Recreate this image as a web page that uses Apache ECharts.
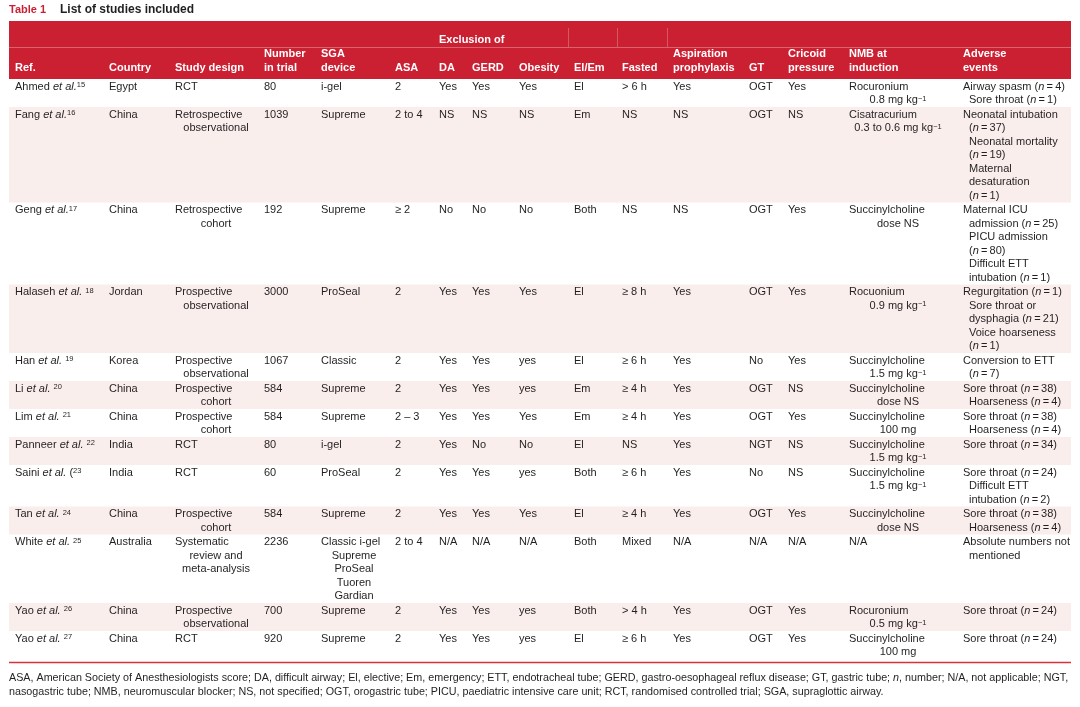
<!DOCTYPE html>
<html><head><meta charset="utf-8">
<script src="https://cdn.jsdelivr.net/npm/echarts@6/dist/echarts.min.js"></script>
<style>html,body{margin:0;padding:0;background:#fff}#c{width:1080px;height:707px}</style>
</head><body><div id="c"></div>
<script>
// ---------------- DATA ----------------
const tableLabel = 'Table 1';
const tableTitle = 'List of studies included';
const groupHeader = 'Exclusion of';
const headers = ['Ref.', 'Country', 'Study design', 'Number\nin trial', 'SGA\ndevice', 'ASA', 'DA', 'GERD', 'Obesity',
  'El/Em', 'Fasted', 'Aspiration\nprophylaxis', 'GT', 'Cricoid\npressure', 'NMB at\ninduction', 'Adverse\nevents'];
const refs = ['Ahmed et al.^15', 'Fang et al.^16', 'Geng et al.^17', 'Halaseh et al. ^18', 'Han et al. ^19', 'Li et al. ^20',
  'Lim et al. ^21', 'Panneer et al. ^22', 'Saini et al. (^23', 'Tan et al. ^24', 'White et al. ^25', 'Yao et al. ^26', 'Yao et al. ^27'];
const countries = ['Egypt', 'China', 'China', 'Jordan', 'Korea', 'China', 'China', 'India', 'India', 'China', 'Australia', 'China', 'China'];
const designs = ['RCT', 'Retrospective\nobservational', 'Retrospective\ncohort', 'Prospective\nobservational', 'Prospective\nobservational',
  'Prospective\ncohort', 'Prospective\ncohort', 'RCT', 'RCT', 'Prospective\ncohort', 'Systematic\nreview and\nmeta-analysis',
  'Prospective\nobservational', 'RCT'];
const numbers = ['80', '1039', '192', '3000', '1067', '584', '584', '80', '60', '584', '2236', '700', '920'];
const devices = ['i-gel', 'Supreme', 'Supreme', 'ProSeal', 'Classic', 'Supreme', 'Supreme', 'i-gel', 'ProSeal', 'Supreme',
  'Classic i-gel\nSupreme\nProSeal\nTuoren\nGardian', 'Supreme', 'Supreme'];
const asa = ['2', '2 to 4', '\u2265 2', '2', '2', '2', '2 \u2013 3', '2', '2', '2', '2 to 4', '2', '2'];
const da = ['Yes', 'NS', 'No', 'Yes', 'Yes', 'Yes', 'Yes', 'Yes', 'Yes', 'Yes', 'N/A', 'Yes', 'Yes'];
const gerd = ['Yes', 'NS', 'No', 'Yes', 'Yes', 'Yes', 'Yes', 'No', 'Yes', 'Yes', 'N/A', 'Yes', 'Yes'];
const obesity = ['Yes', 'NS', 'No', 'Yes', 'yes', 'yes', 'Yes', 'No', 'yes', 'Yes', 'N/A', 'yes', 'yes'];
const elem = ['El', 'Em', 'Both', 'El', 'El', 'Em', 'Em', 'El', 'Both', 'El', 'Both', 'Both', 'El'];
const fasted = ['> 6 h', 'NS', 'NS', '\u2265 8 h', '\u2265 6 h', '\u2265 4 h', '\u2265 4 h', 'NS', '\u2265 6 h', '\u2265 4 h', 'Mixed', '> 4 h', '\u2265 6 h'];
const aspiration = ['Yes', 'NS', 'NS', 'Yes', 'Yes', 'Yes', 'Yes', 'Yes', 'Yes', 'Yes', 'N/A', 'Yes', 'Yes'];
const gt = ['OGT', 'OGT', 'OGT', 'OGT', 'No', 'OGT', 'OGT', 'NGT', 'No', 'OGT', 'N/A', 'OGT', 'OGT'];
const cricoid = ['Yes', 'NS', 'Yes', 'Yes', 'Yes', 'NS', 'Yes', 'NS', 'NS', 'Yes', 'N/A', 'Yes', 'Yes'];
const nmb = ['Rocuronium\n0.8 mg kg^-1', 'Cisatracurium\n0.3 to 0.6 mg kg^-1', 'Succinylcholine\ndose NS', 'Rocuonium\n0.9 mg kg^-1',
  'Succinylcholine\n1.5 mg kg^-1', 'Succinylcholine\ndose NS', 'Succinylcholine\n100 mg', 'Succinylcholine\n1.5 mg kg^-1',
  'Succinylcholine\n1.5 mg kg^-1', 'Succinylcholine\ndose NS', 'N/A', 'Rocuronium\n0.5 mg kg^-1', 'Succinylcholine\n100 mg'];
const adverse = [
  'Airway spasm (n = 4)\nSore throat (n = 1)',
  'Neonatal intubation\n(n = 37)\nNeonatal mortality\n(n = 19)\nMaternal\ndesaturation\n(n = 1)',
  'Maternal ICU\nadmission (n = 25)\nPICU admission\n(n = 80)\nDifficult ETT\nintubation (n = 1)',
  'Regurgitation (n = 1)\nSore throat or\ndysphagia (n = 21)\nVoice hoarseness\n(n = 1)',
  'Conversion to ETT\n(n = 7)',
  'Sore throat (n = 38)\nHoarseness (n = 4)',
  'Sore throat (n = 38)\nHoarseness (n = 4)',
  'Sore throat (n = 34)',
  'Sore throat (n = 24)\nDifficult ETT\nintubation (n = 2)',
  'Sore throat (n = 38)\nHoarseness (n = 4)',
  'Absolute numbers not\nmentioned',
  'Sore throat (n = 24)',
  'Sore throat (n = 24)'
];
const footnoteLines = [
  'ASA, American Society of Anesthesiologists score; DA, difficult airway; El, elective; Em, emergency; ETT, endotracheal tube; GERD, gastro-oesophageal reflux disease; GT, gastric tube; n, number; N/A, not applicable; NGT,',
  'nasogastric tube; NMB, neuromuscular blocker; NS, not specified; OGT, orogastric tube; PICU, paediatric intensive care unit; RCT, randomised controlled trial; SGA, supraglottic airway.'
];
const columns = [refs, countries, designs, numbers, devices, asa, da, gerd, obesity, elem, fasted, aspiration, gt, cricoid, nmb, adverse];

// ---------------- LAYOUT / STYLE ----------------
const FF = '"Liberation Sans", Arial, Helvetica, sans-serif';
const FS = 11;
const FN = 10.75;
const RED = '#CB1F32';
const PINK = '#FAEEED';
const INK = '#231F20';
const tableLeft = 9, tableRight = 1071;
const colX = [15, 109, 175, 264, 321, 395, 439, 472, 519, 574, 622, 673, 749, 788, 849, 963];
const contCenter = {2: 216, 4: 354, 14: 898};
const contIndent = 6;
const lineH = 13.5, rowPad = 1, firstOff = 7.5;
const headTop = 21, bodyTop = 79;

const rowLines = refs.map((_, i) => Math.max(...columns.map(col => col[i].split('\n').length)));
const rowH = rowLines.map(n => n * lineH + rowPad);
const rowTop = [];
rowH.reduce((acc, h, i) => { rowTop[i] = acc; return acc + h; }, 0);
const bodyH = rowTop[rowTop.length - 1] + rowH[rowH.length - 1];

const rich = {
  i: {font: 'italic ' + FS + 'px ' + FF, fill: INK},
  s: {font: '7.5px ' + FF, fill: INK, verticalAlign: 'top'}
};
function fmt(t) {
  return t.replace(/et al\./g, '{i|et al.}')
    .replace(/\^(-?)(\d+)/g, (m, neg, d) => '{s|' + (neg ? '\u2212' : '') + d + '}')
    .replace(/\(n = /g, '({i|n}\u2009=\u2009');
}

function renderRow(params, api) {
  const i = api.value(0);
  const top = api.coord([0, rowTop[i]])[1];
  const bot = api.coord([0, rowTop[i] + rowH[i]])[1];
  const left = api.coord([tableLeft, 0])[0];
  const right = api.coord([tableRight, 0])[0];
  const children = [];
  if (i % 2 === 1) {
    children.push({type: 'rect', shape: {x: left, y: top, width: right - left, height: bot - top}, style: {fill: PINK}});
  }
  columns.forEach((col, c) => {
    col[i].split('\n').forEach((ln, k) => {
      const y = api.coord([0, rowTop[i] + firstOff + k * lineH])[1];
      let xv = colX[c], align = 'left';
      if (k > 0) {
        if (contCenter[c] !== undefined) { xv = contCenter[c]; align = 'center'; }
        else xv = colX[c] + contIndent;
      }
      children.push({
        type: 'text', x: api.coord([xv, 0])[0], y: y,
        style: {text: fmt(ln), rich: rich, fill: INK, font: FS + 'px ' + FF, textAlign: align, textVerticalAlign: 'middle'}
      });
    });
  });
  return {type: 'group', children: children};
}

// header & annotation graphics
const graphics = [];
graphics.push({type: 'text', x: 9, y: 15, style: {text: tableLabel, fill: RED, font: 'bold 11px ' + FF, textVerticalAlign: 'bottom'}});
graphics.push({type: 'text', x: 60, y: 15.5, style: {text: tableTitle, fill: INK, font: 'bold 12px ' + FF, textVerticalAlign: 'bottom'}});
graphics.push({type: 'rect', shape: {x: tableLeft, y: headTop, width: tableRight - tableLeft, height: bodyTop - headTop}, style: {fill: RED}, silent: true});
graphics.push({type: 'line', shape: {x1: tableLeft, y1: 47.5, x2: tableRight, y2: 47.5}, style: {stroke: 'rgba(255,255,255,0.3)', lineWidth: 1}});
[568, 617, 667].forEach(x => graphics.push({type: 'line', shape: {x1: x + 0.5, y1: 28, x2: x + 0.5, y2: 47}, style: {stroke: 'rgba(255,255,255,0.25)', lineWidth: 1}}));
graphics.push({type: 'text', x: colX[6], y: 40, style: {text: groupHeader, fill: '#fff', font: 'bold ' + FS + 'px ' + FF, textVerticalAlign: 'middle'}});
headers.forEach((h, c) => {
  const parts = h.split('\n');
  parts.forEach((p, k) => {
    const y = 67.5 - (parts.length - 1 - k) * 14;
    graphics.push({type: 'text', x: colX[c], y: y, style: {text: p, fill: '#fff', font: 'bold ' + FS + 'px ' + FF, textVerticalAlign: 'middle'}});
  });
});
graphics.push({type: 'line', shape: {x1: tableLeft, y1: 662.5, x2: tableRight, y2: 662.5}, style: {stroke: '#D8313F', lineWidth: 1.5}});
footnoteLines.forEach((t, k) => {
  graphics.push({type: 'text', x: 9, y: 678 + k * 14, style: {
    text: t.replace(' n, number', ' {i|n}, number'), rich: {i: {font: 'italic ' + FN + 'px ' + FF, fill: INK}},
    fill: INK, font: FN + 'px ' + FF, textVerticalAlign: 'middle'}});
});

const chart = echarts.init(document.getElementById('c'), null, {renderer: 'canvas'});
chart.setOption({
  animation: false,
  backgroundColor: '#fff',
  grid: {left: 0, right: 0, top: bodyTop, height: bodyH},
  xAxis: {type: 'value', min: 0, max: 1080, show: false},
  yAxis: {type: 'value', min: 0, max: bodyH, inverse: true, show: false},
  graphic: graphics,
  series: [{
    type: 'custom',
    renderItem: renderRow,
    data: refs.map((_, i) => [i]),
    encode: {x: -1, y: -1},
    clip: false
  }]
});
</script></body></html>
